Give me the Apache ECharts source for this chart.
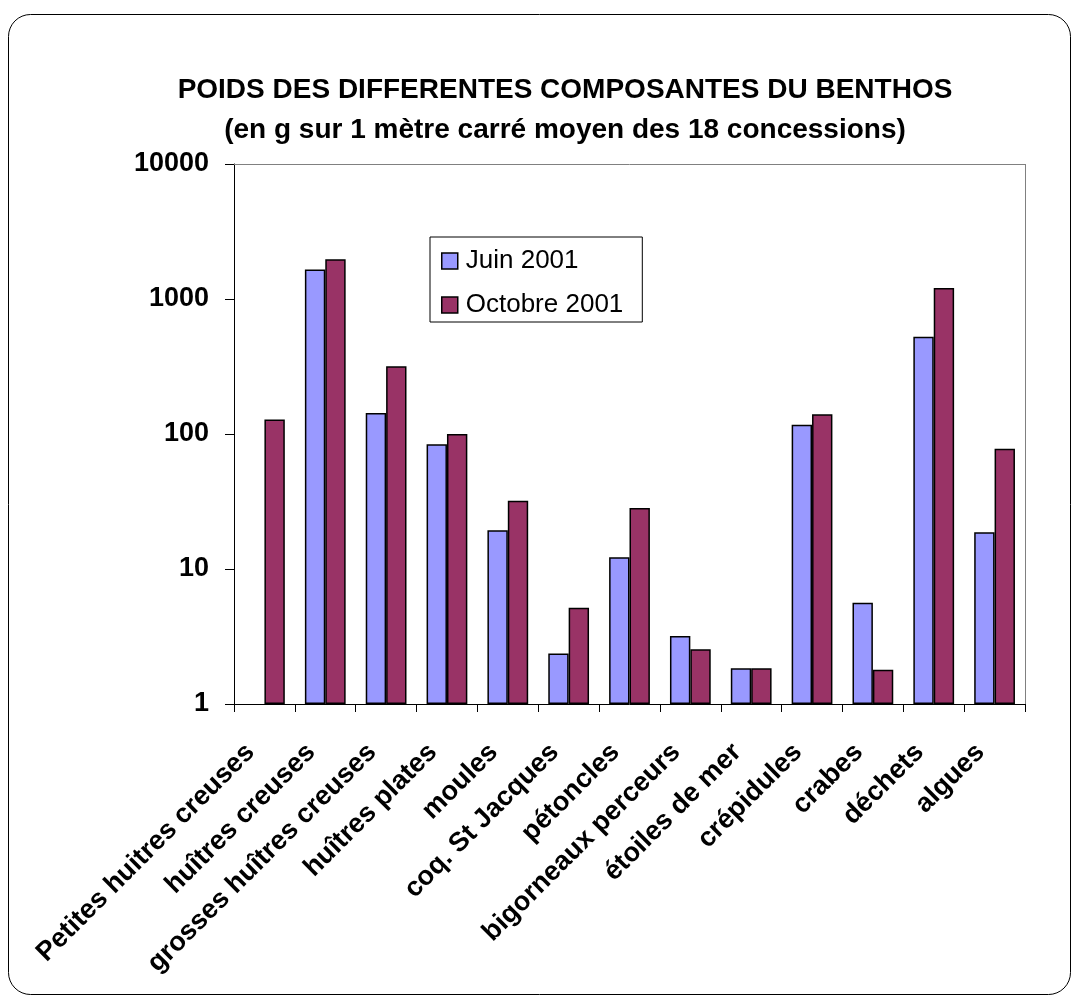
<!DOCTYPE html>
<html>
<head>
<meta charset="utf-8">
<script src="https://cdn.jsdelivr.net/npm/echarts@6/dist/echarts.min.js"></script>
<style>
  html, body { margin: 0; padding: 0; background: #fff; }
  #chart { width: 1077px; height: 1003px; }
</style>
</head>
<body>
<div id="chart"></div>
<script>
// Benthos components, mean weight per square metre (log scale)
const categories = [
  'Petites huitres creuses', 'huîtres creuses', 'grosses huîtres creuses',
  'huîtres plates', 'moules', 'coq. St Jacques', 'pétoncles',
  'bigorneaux perceurs', 'étoiles de mer', 'crépidules', 'crabes',
  'déchets', 'algues'
];
const juin2001 = [null, 1655, 143, 84, 19.4, 2.37, 12.2, 3.19, 1.84, 117, 5.62, 526, 18.7];
const octobre2001 = [128, 1974, 318, 100, 32, 5.16, 28.3, 2.54, 1.84, 140, 1.79, 1205, 77.8];
const yTicks = [1, 10, 100, 1000, 10000];

const titleLines = [
  'POIDS DES DIFFERENTES COMPOSANTES DU BENTHOS',
  '(en g sur 1 mètre carré moyen des 18 concessions)'
];

const chart = echarts.init(document.getElementById('chart'), null, { renderer: 'canvas' });

const fontFamily = 'Liberation Sans, Arial, sans-serif';

chart.setOption({
  animation: false,
  backgroundColor: '#ffffff',
  graphic: [{
    type: 'rect',
    shape: { x: 8.5, y: 14.5, width: 1062, height: 980, r: 22 },
    style: { fill: 'none', stroke: '#000', lineWidth: 1 },
    silent: true
  }],
  title: {
    text: titleLines.join('\n'),
    left: 560,
    textAlign: 'center',
    top: 65,
    textStyle: {
      fontFamily, fontSize: 28, fontWeight: 'bold', color: '#000', lineHeight: 40
    }
  },
  legend: {
    data: ['Juin 2001', 'Octobre 2001'],
    orient: 'vertical',
    left: 430,
    top: 237,
    padding: [9, 19, 2, 11],
    itemGap: 14,
    itemWidth: 16,
    itemHeight: 16,
    borderColor: '#000',
    borderWidth: 1,
    backgroundColor: '#fff',
    textStyle: { fontFamily, fontSize: 26, color: '#000', lineHeight: 30, padding: [0, 0, 0, 3] },
    icon: 'rect',
    itemStyle: { borderColor: '#000', borderWidth: 1.5 }
  },
  grid: { left: 234, right: 52, top: 164, bottom: 299 },
  xAxis: {
    type: 'category',
    data: categories,
    axisLine: { lineStyle: { color: '#000', width: 1 } },
    axisTick: { show: true, length: 8, lineStyle: { color: '#000' } },
    axisLabel: {
      rotate: 45, margin: 30, interval: 0, padding: [0, 20, 0, 0],
      fontFamily, fontSize: 27, fontWeight: 'bold', color: '#000'
    }
  },
  yAxis: {
    type: 'log',
    logBase: 10,
    min: yTicks[0],
    max: yTicks[yTicks.length - 1],
    axisLine: { show: true, lineStyle: { color: '#000', width: 1 } },
    axisTick: { show: true, length: 9, lineStyle: { color: '#000' } },
    splitLine: { show: false },
    axisLabel: {
      margin: 25,
      fontFamily, fontSize: 27, fontWeight: 'bold', color: '#000',
      formatter: v => String(Math.round(v))
    }
  },
  series: [
    {
      name: 'Juin 2001',
      type: 'bar',
      data: juin2001,
      barGap: '0%',
      barCategoryGap: '33%',
      itemStyle: { color: '#9999FF', borderColor: '#000', borderWidth: 1.5 }
    },
    {
      name: 'Octobre 2001',
      type: 'bar',
      data: octobre2001,
      itemStyle: { color: '#993366', borderColor: '#000', borderWidth: 1.5 },
      markLine: {
        silent: true,
        symbol: 'none',
        label: { show: false },
        lineStyle: { color: '#808080', type: 'solid', width: 1 },
        data: [
          [{ x: 234, y: 164 }, { x: 1025, y: 164 }],
          [{ x: 1025, y: 164 }, { x: 1025, y: 704 }]
        ]
      }
    }
  ]
});
</script>
</body>
</html>
